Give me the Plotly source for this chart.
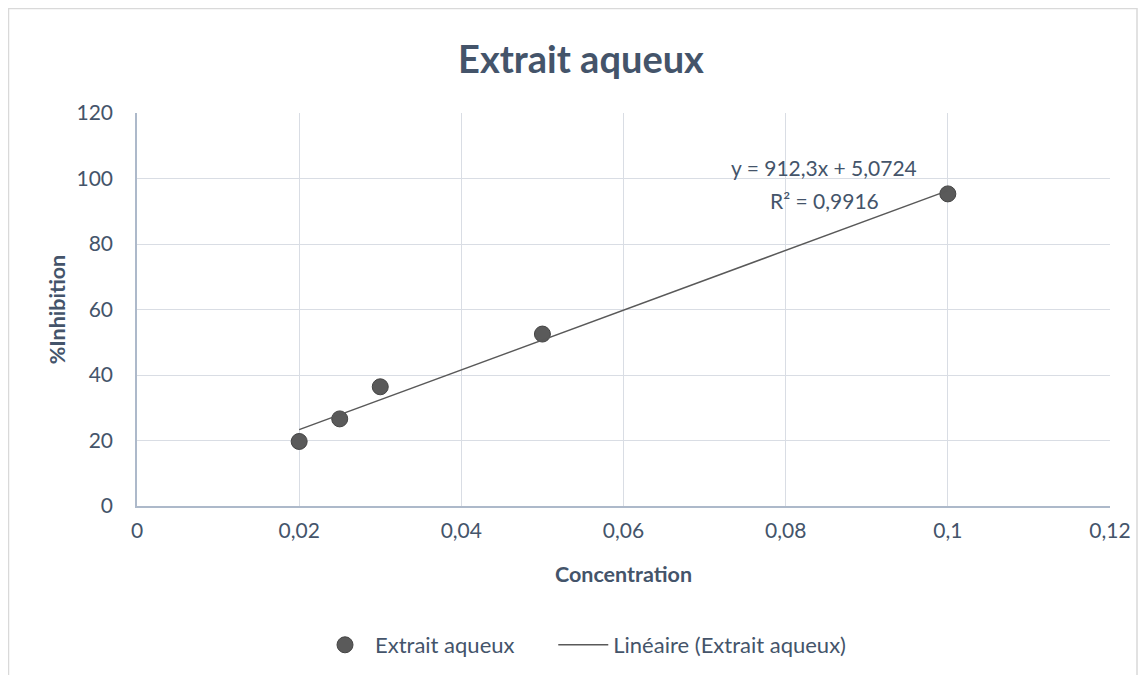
import plotly.graph_objects as go

# ---- data ----
concentration = [0.02, 0.025, 0.03, 0.05, 0.1]
inhibition = [19.7, 26.6, 36.4, 52.5, 95.3]
trend_slope = 912.3
trend_intercept = 5.0724
trend_x = [0.02, 0.1]
x_tickvals = [0, 0.02, 0.04, 0.06, 0.08, 0.1, 0.12]
x_ticktext = ["0", "0,02", "0,04", "0,06", "0,08", "0,1", "0,12"]
y_tickvals = [0, 20, 40, 60, 80, 100, 120]
eq_text = "y = 912,3x + 5,0724"
r2_text = "R² = 0,9916"

FONT = "Lato"
TXT = "#44546a"
trend_y = [trend_slope * x + trend_intercept for x in trend_x]

L, R, T, B = 129, 46, 105, 177
PW = 1148 - L - R
PH = 675 - T - B

fig = go.Figure()
fig.add_trace(go.Scatter(
    x=concentration, y=inhibition, mode="markers",
    name="Extrait aqueux" + "\u00a0" * 6,
    marker=dict(size=16, color="#5a5a5a", line=dict(color="#444444", width=1)),
))
fig.add_trace(go.Scatter(
    x=trend_x, y=trend_y, mode="lines", name="Linéaire (Extrait aqueux)",
    line=dict(color="#595959", width=1.5),
))

fig.add_annotation(x=0.0965, y=103.5, xref="x", yref="y", text=eq_text,
                   showarrow=False, xanchor="right", yanchor="middle",
                   font=dict(family=FONT, size=21, color=TXT))
fig.add_annotation(x=0.0917, y=93.4, xref="x", yref="y", text=r2_text,
                   showarrow=False, xanchor="right", yanchor="middle",
                   font=dict(family=FONT, size=21, color=TXT))

# outer chart border
fig.add_shape(type="rect", xref="paper", yref="paper",
              x0=(0.5 - L) / PW, x1=(1129 - L) / PW,
              y0=-0.8, y1=(PH + T - 0.5) / PH,
              line=dict(color="#d9d9d9", width=1.5), layer="below")

fig.update_layout(
    width=1148, height=675,
    margin=dict(l=L, r=R, t=T, b=B, autoexpand=False),
    paper_bgcolor="white", plot_bgcolor="white",
    separators=", ",
    font=dict(family=FONT, size=21, color=TXT),
    title=dict(text="<b>Extrait aqueux</b>", x=573 / 1148, xanchor="center",
               y=1 - 52 / 675, yanchor="middle",
               font=dict(family=FONT, size=38, color=TXT)),
    xaxis=dict(range=[0, 0.12], tickvals=x_tickvals, ticktext=x_ticktext,
               showgrid=True, gridcolor="#d9dde4", gridwidth=1,
               showline=True, linecolor="#adb9ca", linewidth=1.5,
               zeroline=False, ticks="", ticklen=0, ticklabelstandoff=5,
               tickfont=dict(family=FONT, size=21, color=TXT),
               title=dict(text="<b>Concentration</b>", standoff=26,
                          font=dict(family=FONT, size=21.5, color=TXT))),
    yaxis=dict(range=[0, 120], tickvals=y_tickvals,
               showgrid=True, gridcolor="#d9dde4", gridwidth=1,
               showline=True, linecolor="#adb9ca", linewidth=1.5,
               zeroline=False, ticks="", ticklen=0, ticklabelstandoff=18,
               tickfont=dict(family=FONT, size=21, color=TXT),
               title=dict(text="<b>%Inhibition</b>", standoff=5,
                          font=dict(family=FONT, size=21.5, color=TXT))),
    showlegend=True,
    legend=dict(orientation="h", x=(307 - L) / PW, xanchor="left",
                y=-(645 - 8 - (T + PH)) / PH, yanchor="middle",
                itemwidth=50,
                font=dict(family=FONT, size=22, color=TXT),
                bgcolor="rgba(0,0,0,0)"),
)

fig.write_html("out.html")
